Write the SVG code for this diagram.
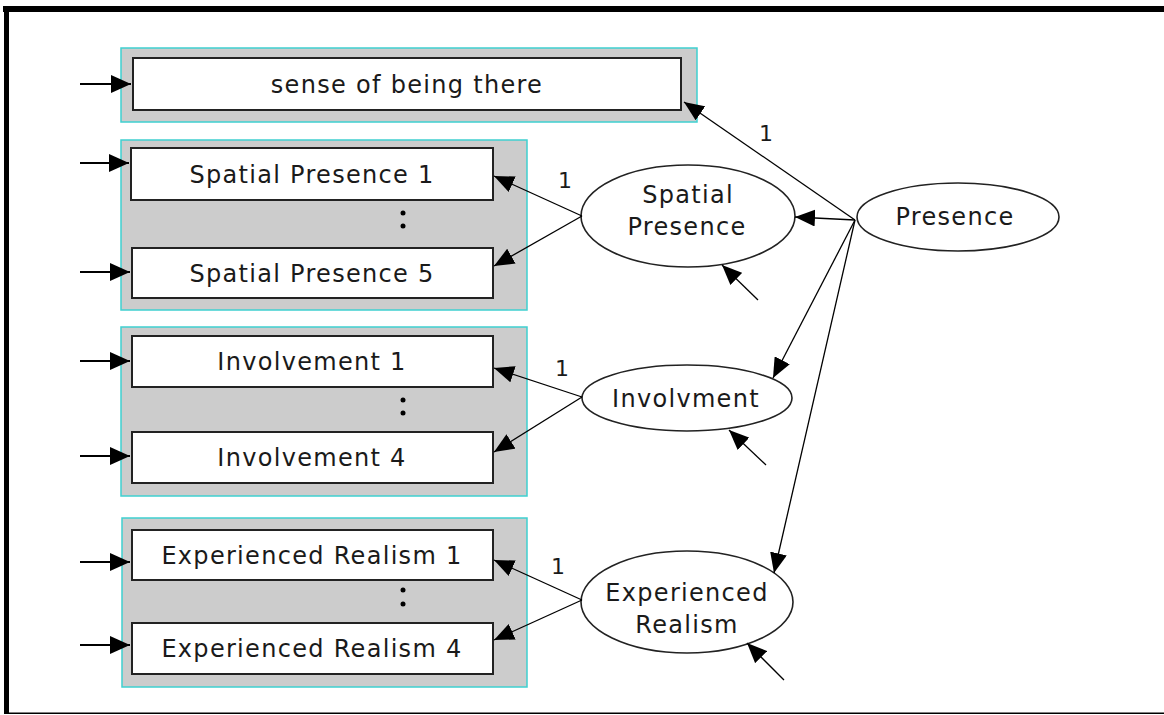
<svg xmlns="http://www.w3.org/2000/svg" width="1164" height="715" viewBox="0 0 1164 715">
  <defs>
    <marker id="head" viewBox="0 0 20 18" refX="20" refY="9" markerWidth="20" markerHeight="18" orient="auto" markerUnits="userSpaceOnUse">
      <path d="M0,0 L20,9 L0,18 Z" fill="#000"/>
    </marker>
    <marker id="headS" viewBox="0 0 20 17" refX="20" refY="8.5" markerWidth="20" markerHeight="17" orient="auto" markerUnits="userSpaceOnUse">
      <path d="M0,0 L20,8.5 L0,17 Z" fill="#000"/>
    </marker>
    <style>
      .grp { fill: #cccccc; stroke: #3fd0d0; stroke-width: 1.5; }
      .ind { fill: #ffffff; stroke: #222; stroke-width: 2; }
      .lat { fill: #ffffff; stroke: #222; stroke-width: 1.6; }
      .lbl { font-family: "DejaVu Sans", Verdana, sans-serif; font-size: 24px; letter-spacing: 1.3px; fill: #1a1a1a; text-anchor: middle; }
      .one { font-family: "DejaVu Sans", Verdana, sans-serif; font-size: 22px; fill: #1a1a1a; text-anchor: middle; }
      .ext { stroke: #000; stroke-width: 2; fill: none; marker-end: url(#head); }
      .path { stroke: #000; stroke-width: 1.3; fill: none; marker-end: url(#headS); }
    </style>
  </defs>

  <rect width="1164" height="715" fill="#ffffff"/>

  <!-- frame -->
  <rect x="3" y="6" width="1161" height="6" fill="#000"/>
  <rect x="4" y="6" width="5" height="708" fill="#000"/>
  <rect x="4" y="712.5" width="1160" height="1.5" fill="#000"/>

  <!-- indicator: sense of being there -->
  <g id="sense-of-being-there">
    <rect class="grp" x="121" y="48" width="576" height="74"/>
    <rect class="ind" x="133" y="58" width="548" height="52"/>
    <text class="lbl" x="407" y="93">sense of being there</text>
  </g>

  <!-- indicators: spatial presence -->
  <g id="spatial-presence-items">
    <rect class="grp" x="121" y="140" width="406" height="170"/>
    <rect class="ind" x="131" y="148" width="362" height="52"/>
    <text class="lbl" x="312" y="183">Spatial Presence 1</text>
    <circle cx="403" cy="213" r="2.5" fill="#000"/>
    <circle cx="403" cy="226" r="2.5" fill="#000"/>
    <rect class="ind" x="132" y="248" width="361" height="50"/>
    <text class="lbl" x="312" y="282">Spatial Presence 5</text>
  </g>

  <!-- indicators: involvement -->
  <g id="involvement-items">
    <rect class="grp" x="121" y="327" width="406" height="169"/>
    <rect class="ind" x="132" y="336" width="361" height="51"/>
    <text class="lbl" x="312" y="370">Involvement 1</text>
    <circle cx="403" cy="400" r="2.5" fill="#000"/>
    <circle cx="403" cy="413" r="2.5" fill="#000"/>
    <rect class="ind" x="132" y="432" width="361" height="51"/>
    <text class="lbl" x="312" y="466">Involvement 4</text>
  </g>

  <!-- indicators: experienced realism -->
  <g id="experienced-realism-items">
    <rect class="grp" x="122" y="518" width="405" height="169"/>
    <rect class="ind" x="132" y="530" width="361" height="50"/>
    <text class="lbl" x="312" y="564">Experienced Realism 1</text>
    <circle cx="403" cy="590" r="2.5" fill="#000"/>
    <circle cx="403" cy="604" r="2.5" fill="#000"/>
    <rect class="ind" x="132" y="623" width="361" height="51"/>
    <text class="lbl" x="312" y="657">Experienced Realism 4</text>
  </g>

  <!-- latent variables -->
  <g id="presence">
    <ellipse class="lat" cx="958" cy="217" rx="101" ry="34"/>
    <text class="lbl" x="955" y="225">Presence</text>
  </g>
  <g id="spatial-presence">
    <ellipse class="lat" cx="688" cy="216" rx="107" ry="51"/>
    <text class="lbl" x="688" y="203">Spatial</text>
    <text class="lbl" x="687" y="235">Presence</text>
  </g>
  <g id="involvment">
    <ellipse class="lat" cx="687" cy="398" rx="105" ry="33"/>
    <text class="lbl" x="686" y="407">Involvment</text>
  </g>
  <g id="experienced-realism">
    <ellipse class="lat" cx="687" cy="602" rx="106" ry="51"/>
    <text class="lbl" x="687" y="601">Experienced</text>
    <text class="lbl" x="687" y="633">Realism</text>
  </g>

  <!-- connectors -->
  <g id="connectors">
    <!-- error terms on the indicators -->
    <line class="ext" x1="80" y1="84" x2="131" y2="84"/>
    <line class="ext" x1="80" y1="163" x2="129" y2="163"/>
    <line class="ext" x1="80" y1="272" x2="130" y2="272"/>
    <line class="ext" x1="80" y1="361" x2="130" y2="361"/>
    <line class="ext" x1="80" y1="456" x2="130" y2="456"/>
    <line class="ext" x1="80" y1="562" x2="130" y2="562"/>
    <line class="ext" x1="80" y1="645" x2="130" y2="645"/>

    <!-- second-order factor loadings -->
    <line class="path" x1="855" y1="220" x2="684" y2="102"/>
    <line class="path" x1="855" y1="220" x2="795" y2="217"/>
    <line class="path" x1="855" y1="220" x2="773" y2="378"/>
    <line class="path" x1="855" y1="220" x2="774" y2="573"/>

    <!-- first-order factor loadings -->
    <line class="path" x1="582" y1="216" x2="494" y2="176"/>
    <line class="path" x1="582" y1="216" x2="494" y2="266"/>
    <line class="path" x1="582" y1="397" x2="494" y2="368"/>
    <line class="path" x1="582" y1="397" x2="494" y2="452"/>
    <line class="path" x1="582" y1="600" x2="494" y2="560"/>
    <line class="path" x1="582" y1="600" x2="494" y2="640"/>

    <!-- disturbances on the latent factors -->
    <line class="path" x1="758" y1="300" x2="722" y2="265"/>
    <line class="path" x1="766" y1="465" x2="729" y2="430"/>
    <line class="path" x1="784" y1="680" x2="747" y2="643"/>

    <!-- fixed loadings -->
    <text class="one" x="766" y="141">1</text>
    <text class="one" x="565" y="188">1</text>
    <text class="one" x="562" y="376">1</text>
    <text class="one" x="558" y="574">1</text>
  </g>
</svg>
